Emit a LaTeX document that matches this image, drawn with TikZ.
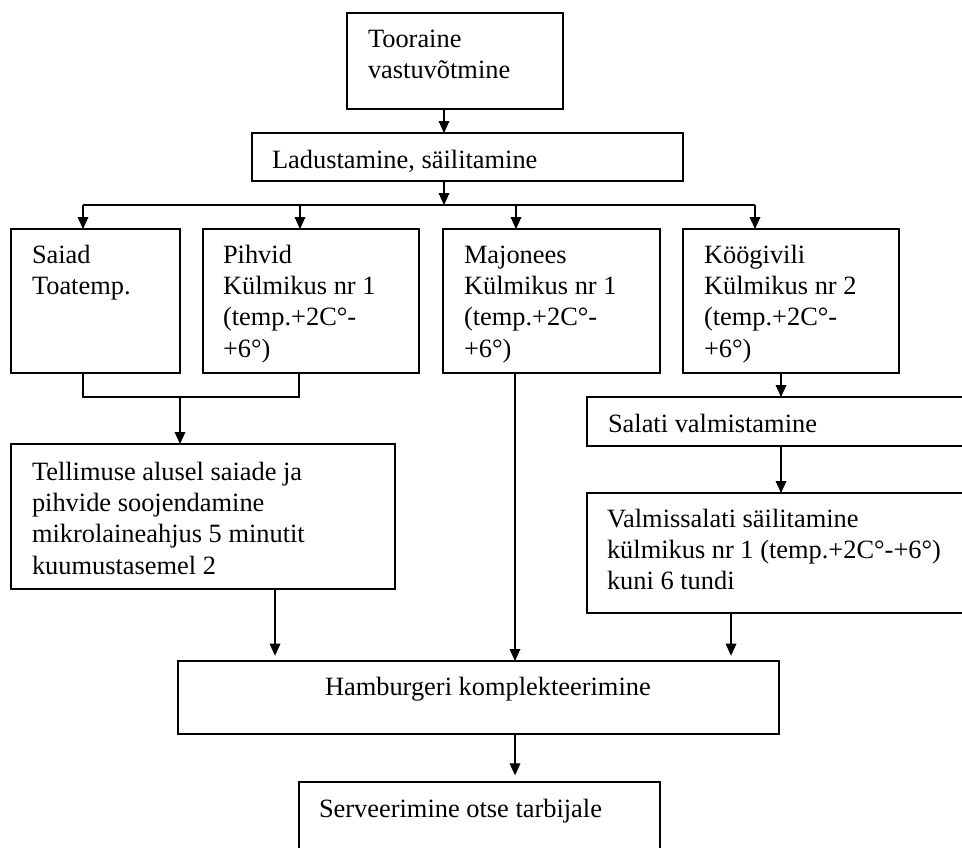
\documentclass[tikz,border=0pt]{standalone}
\usepackage{fontspec}
\setmainfont{Liberation Serif}
\usetikzlibrary{arrows.meta}
\newcommand\mkbox[5]{\node[box,anchor=north west,minimum width={(#4-#2)*0.75pt},minimum height={(#5-#3)*0.75pt}] (#1) at (#2,#3) {};}
\begin{document}
\begin{tikzpicture}[x=0.75pt,y=-0.75pt,
  box/.style={draw,line width=0.9pt,inner sep=0pt,outer sep=0pt},
  txt/.style={inner sep=0pt,outer sep=0pt,align=left,anchor=north west,yshift=16.45pt,font=\fontsize{19.8pt}{23.5pt}\selectfont},
  arr/.style={line width=0.9pt,-{Triangle[width=8pt,length=9pt]}},
  ln/.style={line width=0.9pt}]
\useasboundingbox (0,0) rectangle (962,847);
\clip (0,0) rectangle (962,847);
% boxes
\mkbox{tooraine}{347}{13}{563}{109}
\mkbox{ladust}{252}{133}{683}{181}
\mkbox{saiad}{11}{229}{180}{373}
\mkbox{pihvid}{203}{229}{419}{373}
\mkbox{majonees}{443}{229}{660}{373}
\mkbox{kogivili}{683}{229}{899}{373}
\mkbox{salati}{587}{397}{975}{446}
\mkbox{tellimuse}{11}{444}{395}{589}
\mkbox{valmis}{587}{493}{975}{613}
\mkbox{hamb}{178}{661}{779}{734}
\mkbox{serv}{299}{782}{660}{870}
% texts
\node[txt] (t1) at (368,47) {\strut Tooraine\\vastuvõtmine};
\node[txt] (t2) at (272,168) {\strut Ladustamine, säilitamine};
\node[txt] (t3) at (32,263) {\strut Saiad\\Toatemp.};
\node[txt] (t4) at (223,263) {\strut Pihvid\\Külmikus nr 1\\(temp.+2C°-\\+6°)};
\node[txt] (t5) at (464,263) {\strut Majonees\\Külmikus nr 1\\(temp.+2C°-\\+6°)};
\node[txt] (t6) at (704,263) {\strut Köögivili\\Külmikus nr 2\\(temp.+2C°-\\+6°)};
\node[txt] (t7) at (608,432) {\strut Salati valmistamine};
\node[txt] (t8) at (32,480) {\strut Tellimuse alusel saiade ja\\pihvide soojendamine\\mikrolaineahjus 5 minutit\\kuumustasemel 2};
\node[txt] (t9) at (607,527) {\strut Valmissalati säilitamine\\külmikus nr 1 (temp.+2C°-+6°)\\kuni 6 tundi};
\node[txt] (t10) at (325,695) {\strut Hamburgeri komplekteerimine};
\node[txt] (t11) at (319,817) {\strut Serveerimine otse tarbijale};
% connectors
\coordinate (hL) at (83,205);
\coordinate (hR) at (755,205);
\coordinate (bL) at (83,397);
\coordinate (bR) at (299,397);
\draw[arr] (444,0 |- tooraine.south) -- (444,0 |- ladust.north);
\draw[arr] (444,0 |- ladust.south) -- (444,0 |- hL);
\draw[ln] (hL) -- (hR);
\draw[arr] (hL) -- (83,0 |- saiad.north);
\draw[arr] (300,0 |- hL) -- (300,0 |- pihvid.north);
\draw[arr] (516,0 |- hL) -- (516,0 |- majonees.north);
\draw[arr] (hR) -- (755,0 |- kogivili.north);
\draw[ln] (83,0 |- saiad.south) -- (bL) -- (bR) -- (299,0 |- pihvid.south);
\draw[arr] (180,0 |- bL) -- (180,0 |- tellimuse.north);
\draw[arr] (781,0 |- kogivili.south) -- (781,0 |- salati.north);
\draw[arr] (781,0 |- salati.south) -- (781,0 |- valmis.north);
\draw[arr,shorten >=4pt] (275,0 |- tellimuse.south) -- (275,0 |- hamb.north);
\draw[arr] (515,0 |- majonees.south) -- (515,0 |- hamb.north);
\draw[arr,shorten >=4pt] (731,0 |- valmis.south) -- (731,0 |- hamb.north);
\draw[arr,shorten >=5pt] (515,0 |- hamb.south) -- (515,0 |- serv.north);
\end{tikzpicture}
\end{document}
